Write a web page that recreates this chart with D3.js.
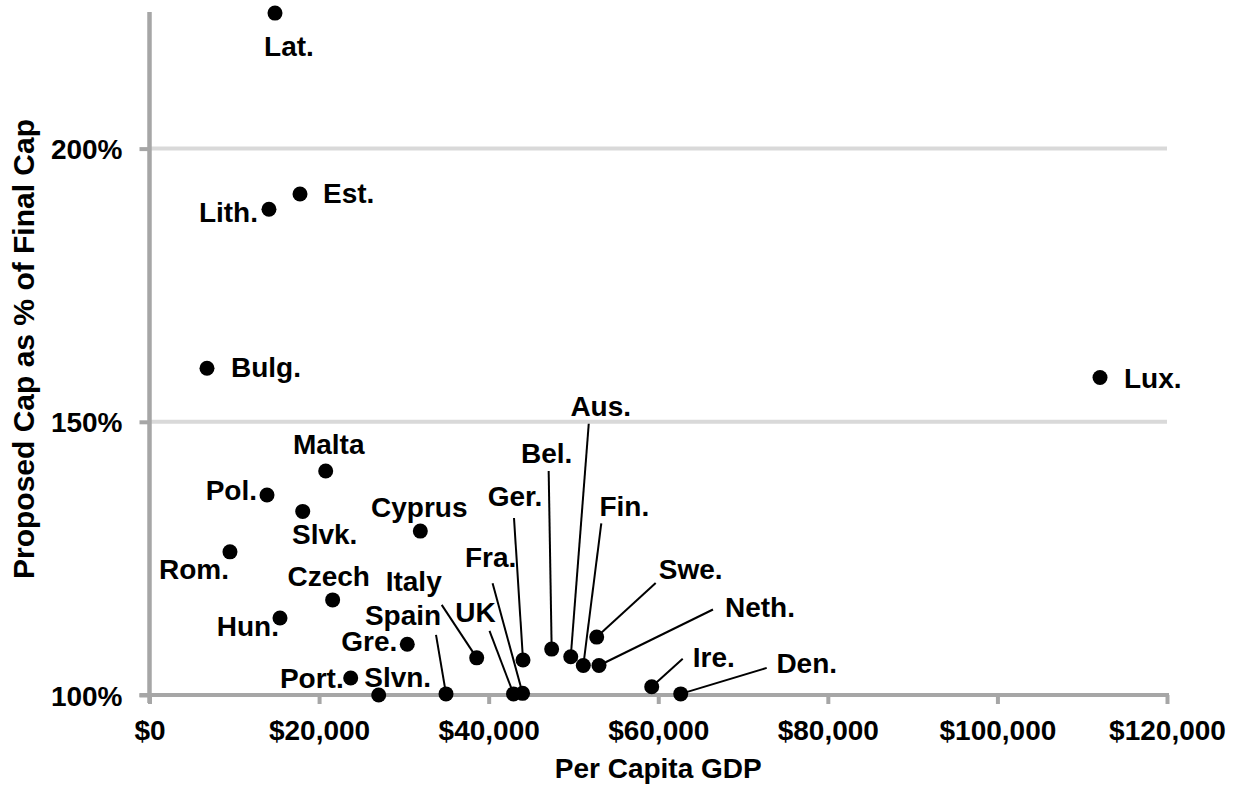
<!DOCTYPE html>
<html>
<head>
<meta charset="utf-8">
<script src="https://cdn.jsdelivr.net/npm/d3@7"></script>
<style>
  html, body { margin: 0; padding: 0; background: #fff; }
  svg text { font-family: "Liberation Sans", Arial, sans-serif; font-weight: bold; fill: #000; }
</style>
</head>
<body>
<svg id="chart" width="1241" height="790"></svg>
<script>
// ---- data ----
const countries = ["Lat.","Est.","Lith.","Bulg.","Malta","Pol.","Slvk.","Cyprus","Rom.","Czech","Hun.","Gre.","Port.","Slvn.","Spain","Italy","UK","Fra.","Ger.","Bel.","Aus.","Fin.","Swe.","Neth.","Ire.","Den.","Lux."];
const gdpPerCapita = [14800,17750,14090,6780,20780,13860,18070,31940,9490,21600,15390,30400,23730,27030,34970,38590,42930,44000,44050,47430,49680,51160,52740,53010,59230,62650,112100];
const capPercent = [224.8,191.7,188.9,159.8,141.0,136.6,133.6,130.0,126.2,117.4,114.1,109.3,103.1,100.0,100.2,106.8,100.2,100.3,106.4,108.4,107.0,105.4,110.6,105.4,101.5,100.2,158.1];
const xTickValues = [0,20000,40000,60000,80000,100000,120000];
const yTickValues = [100,150,200];
const xTitle = "Per Capita GDP";
const yTitle = "Proposed Cap as % of Final Cap";

// ---- label layout (pixel offsets from each point; leader start where used) ----
const labelLayout = {
  "Lat.":   {dx:14, dy:43, a:"middle"},
  "Est.":   {dx:23, dy:9, a:"start"},
  "Lith.":  {dx:-11, dy:13, a:"end"},
  "Bulg.":  {dx:24, dy:9, a:"start"},
  "Malta":  {dx:3, dy:-17, a:"middle"},
  "Pol.":   {dx:-10, dy:5, a:"end"},
  "Slvk.":  {dx:22, dy:33, a:"middle"},
  "Cyprus": {dx:-1, dy:-14, a:"middle"},
  "Rom.":   {dx:-1, dy:27, a:"end"},
  "Czech":  {dx:-4, dy:-14, a:"middle"},
  "Hun.":   {dx:-1, dy:18, a:"end"},
  "Gre.":   {dx:-10, dy:7, a:"end"},
  "Port.":  {dx:-7, dy:10, a:"end"},
  "Slvn.":  {dx:19, dy:-8, a:"middle"},
  "Spain":  {dx:-43, dy:-69, a:"middle", lx:-10, ly:-59},
  "Italy":  {dx:-63, dy:-67, a:"middle", lx:-35, ly:-53},
  "UK":     {dx:-38, dy:-72, a:"middle", lx:-24, ly:-63},
  "Fra.":   {dx:-32, dy:-126, a:"middle", lx:-30, ly:-110},
  "Ger.":   {dx:-8, dy:-154, a:"middle", lx:-9, ly:-142},
  "Bel.":   {dx:-5, dy:-186, a:"middle", lx:-3, ly:-178},
  "Aus.":   {dx:30, dy:-241, a:"middle", lx:18, ly:-233},
  "Fin.":   {dx:41, dy:-149, a:"middle", lx:18, ly:-142},
  "Swe.":   {dx:94, dy:-58, a:"middle", lx:59, ly:-54},
  "Neth.":  {dx:161, dy:-48, a:"middle", lx:114, ly:-56},
  "Ire.":   {dx:62, dy:-20, a:"middle", lx:31, ly:-28},
  "Den.":   {dx:126, dy:-21, a:"middle", lx:86, ly:-26},
  "Lux.":   {dx:24, dy:10, a:"start"}
};

const data = countries.map((c, i) => ({name: c, gdp: gdpPerCapita[i], cap: capPercent[i]}));

const svg = d3.select("#chart");
const pLeft = 149.5, pRight = 1167, pTop = 12, pBottom = 695;
const x = d3.scaleLinear().domain([0, 120000]).range([pLeft, pRight]);
const y = d3.scaleLinear().domain([100, 225]).range([pBottom, pTop]);
const FS = 28;

// gridlines
svg.append("g").selectAll("line").data(yTickValues.filter(v => v > 100)).join("line")
  .attr("x1", pLeft).attr("x2", pRight)
  .attr("y1", d => y(d)).attr("y2", d => y(d))
  .attr("stroke", "#d9d9d9").attr("stroke-width", 4);

// x axis
const xAxis = d3.axisBottom(x).tickValues(xTickValues).tickSize(9).tickPadding(16)
  .tickFormat(d => "$" + d3.format(",")(d));
const gx = svg.append("g").attr("transform", `translate(0,${pBottom})`).call(xAxis);
gx.select(".domain").attr("stroke", "#a6a6a6").attr("stroke-width", 4)
  .attr("d", `M${pLeft - 10},0H${pRight + 2}`);
gx.selectAll(".tick line").attr("stroke", "#a6a6a6").attr("stroke-width", 4);
gx.selectAll(".tick text").attr("font-size", FS).attr("dy", "0.71em")
  .style("font-family", '"Liberation Sans", Arial, sans-serif').style("font-weight", "bold").attr("fill", "#000");

// y axis
const yAxis = d3.axisLeft(y).tickValues(yTickValues).tickSize(10).tickPadding(17)
  .tickFormat(d => d + "%");
const gy = svg.append("g").attr("transform", `translate(${pLeft},0)`).call(yAxis);
gy.select(".domain").attr("stroke", "#a6a6a6").attr("stroke-width", 4.5)
  .attr("d", `M0,${pTop}V${pBottom + 8}`);
gy.selectAll(".tick line").attr("stroke", "#a6a6a6").attr("stroke-width", 4);
gy.selectAll(".tick text").attr("font-size", FS).attr("dy", "0.36em")
  .style("font-family", '"Liberation Sans", Arial, sans-serif').style("font-weight", "bold").attr("fill", "#000");

// titles
svg.append("text").attr("x", (pLeft + pRight) / 2).attr("y", 778)
  .attr("text-anchor", "middle").attr("font-size", FS).text(xTitle);
svg.append("text").attr("transform", `translate(34,349) rotate(-90)`)
  .attr("text-anchor", "middle").attr("font-size", 30).text(yTitle);

// leader lines
svg.append("g").selectAll("line").data(data.filter(d => labelLayout[d.name].lx !== undefined)).join("line")
  .attr("x1", d => x(d.gdp) + labelLayout[d.name].lx)
  .attr("y1", d => y(d.cap) + labelLayout[d.name].ly)
  .attr("x2", d => x(d.gdp)).attr("y2", d => y(d.cap))
  .attr("stroke", "#000").attr("stroke-width", 2);

// points
svg.append("g").selectAll("circle").data(data).join("circle")
  .attr("cx", d => x(d.gdp)).attr("cy", d => y(d.cap)).attr("r", 7.5).attr("fill", "#000");

// labels
svg.append("g").selectAll("text").data(data).join("text")
  .attr("x", d => x(d.gdp) + labelLayout[d.name].dx)
  .attr("y", d => y(d.cap) + labelLayout[d.name].dy)
  .attr("text-anchor", d => labelLayout[d.name].a)
  .attr("font-size", FS).text(d => d.name);
</script>
</body>
</html>
